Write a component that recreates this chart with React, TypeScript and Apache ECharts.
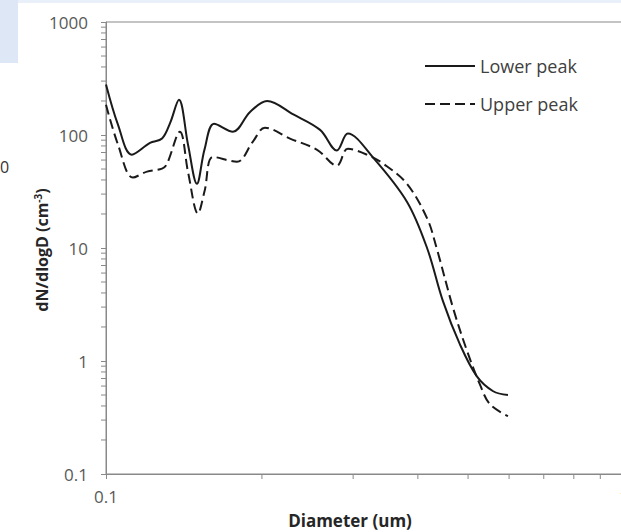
import React, { useEffect, useRef } from "react";
import * as echarts from "echarts";

// Lower peak (solid) : [diameter um, dN/dlogD]
const lowerPeak: [number, number][] = [
  [0.1, 280], [0.1055, 123], [0.1122, 67], [0.1216, 85], [0.1283, 93],
  [0.133, 128], [0.1383, 205], [0.144, 82], [0.1498, 37], [0.155, 75],
  [0.1617, 126], [0.1758, 107], [0.1897, 160], [0.2046, 200], [0.23, 152],
  [0.259, 111], [0.279, 73], [0.293, 103], [0.327, 64], [0.381, 25.7],
  [0.417, 9.9], [0.447, 3.4], [0.482, 1.41], [0.52, 0.73], [0.559, 0.54],
  [0.597, 0.5],
];

// Upper peak (dashed)
const upperPeak: [number, number][] = [
  [0.1, 185], [0.1055, 82], [0.1127, 42], [0.12, 47.4], [0.1283, 50.4],
  [0.131, 55], [0.1389, 107], [0.144, 47], [0.1505, 20.2], [0.155, 32],
  [0.161, 64], [0.179, 58], [0.192, 87], [0.2027, 116], [0.2266, 93],
  [0.2556, 74], [0.279, 53.5], [0.293, 75.6], [0.319, 67], [0.343, 55.7],
  [0.381, 37], [0.417, 18.2], [0.435, 9.9], [0.468, 2.92], [0.498, 1.22],
  [0.527, 0.62], [0.551, 0.415], [0.597, 0.325],
];

const seriesNames = ["Lower peak", "Upper peak"];
const xMinorTicks = [0.2, 0.3, 0.4, 0.5, 0.6, 0.7, 0.8, 0.9];
const yDecades = [0.1, 1, 10, 100];
const yMultipliers = [2, 3, 4, 5, 6, 7, 8, 9];

const AXIS = "#898989";
const INK = "#1a1a1a";

export default function App() {
  const ref = useRef<HTMLDivElement>(null);
  useEffect(() => {
    document.body.style.margin = "0";
    const chart = echarts.init(ref.current!, null, { renderer: "svg" });
    const yMinor: [number, number][] = [];
    yDecades.forEach((d) => yMultipliers.forEach((m) => yMinor.push([0.1, +(d * m).toPrecision(3)])));
    const xMinor: [number, number][] = xMinorTicks.map((v) => [v, 0.1]);

    const legendText = (y: number, text: string) => ({
      type: "text", x: 480, y,
      style: { text, fontFamily: "Open Sans", fontSize: 18, fill: "#404040", align: "left", verticalAlign: "middle" },
    });

    chart.setOption({
      animation: false,
      backgroundColor: "#fff",
      grid: {
        left: 106, top: 22, width: 518, height: 452,
        outerBoundsMode: "none", containLabel: false,
        show: true, borderColor: AXIS, borderWidth: 1,
      },
      xAxis: {
        type: "log", logBase: 10, min: 0.1, max: 1,
        axisLine: { show: true, lineStyle: { color: AXIS, width: 1 } },
        axisTick: { show: true, length: 5, lineStyle: { color: AXIS } },
        splitLine: { show: false },
        axisLabel: {
          margin: 14, fontFamily: "Open Sans", fontSize: 17, color: "#595959",
          showMinLabel: true, showMaxLabel: true, hideOverlap: false,
          formatter: (v: number) => String(Number(v.toPrecision(3))),
        },
      },
      yAxis: {
        type: "log", logBase: 10, min: 0.1, max: 1000,
        axisLine: { show: true, lineStyle: { color: AXIS, width: 1 } },
        axisTick: { show: true, length: 5, lineStyle: { color: AXIS } },
        splitLine: { show: false },
        axisLabel: {
          margin: 18, fontFamily: "Open Sans", fontSize: 17, color: "#595959",
          formatter: (v: number) => String(Number(v.toPrecision(3))),
        },
      },
      graphic: [
        { type: "rect", z: -10, shape: { x: 0, y: 0, width: 18, height: 63 }, style: { fill: "#dde7f6" } },
        { type: "rect", z: -10, shape: { x: 18, y: 0, width: 603, height: 3 }, style: { fill: "#e9f0fa" } },
        {
          type: "text", x: 0, y: 167,
          style: { text: "0", fontFamily: "Open Sans", fontSize: 16, fill: "#333", align: "left", verticalAlign: "middle" },
        },
        {
          type: "text", x: 350, y: 520,
          style: {
            text: "Diameter (um)", fontFamily: "Open Sans", fontWeight: "bold", fontSize: 17,
            fill: "#262626", align: "center", verticalAlign: "middle",
          },
        },
        {
          type: "text", x: 42, y: 250, rotation: Math.PI / 2,
          style: {
            text: "{a|dN/dlogD (cm}{b|-3}{a|)}",
            align: "center", verticalAlign: "middle",
            rich: {
              a: { fontFamily: "Open Sans", fontWeight: "bold", fontSize: 16, fill: "#262626" },
              b: { fontFamily: "Open Sans", fontWeight: "bold", fontSize: 10, fill: "#262626", padding: [0, 0, 9, 0] },
            },
          },
        },
        // legend
        { type: "line", shape: { x1: 425, y1: 66, x2: 475, y2: 66 }, style: { stroke: INK, lineWidth: 2 } },
        legendText(66, seriesNames[0]),
        { type: "line", shape: { x1: 425, y1: 104, x2: 475, y2: 104 }, style: { stroke: INK, lineWidth: 2, lineDash: [10, 5] } },
        legendText(104, seriesNames[1]),
      ],
      series: [
        {
          name: seriesNames[0], type: "line", data: lowerPeak, smooth: 0.35,
          showSymbol: false, symbol: "none",
          lineStyle: { color: INK, width: 2, type: "solid" },
        },
        {
          name: seriesNames[1], type: "line", data: upperPeak, smooth: 0.35,
          showSymbol: false, symbol: "none",
          lineStyle: { color: INK, width: 2, type: [10, 5] },
        },
        {
          type: "custom", silent: true, clip: false, data: xMinor,
          encode: { x: 0, y: 1 },
          renderItem: (_p: any, api: any) => {
            const pt = api.coord([api.value(0), api.value(1)]);
            return { type: "line", shape: { x1: pt[0], y1: pt[1], x2: pt[0], y2: pt[1] + 5 }, style: { stroke: AXIS, lineWidth: 1 } };
          },
        },
        {
          type: "custom", silent: true, clip: false, data: yMinor,
          encode: { x: 0, y: 1 },
          renderItem: (_p: any, api: any) => {
            const pt = api.coord([api.value(0), api.value(1)]);
            return { type: "line", shape: { x1: pt[0], y1: pt[1], x2: pt[0] - 5, y2: pt[1] }, style: { stroke: AXIS, lineWidth: 1 } };
          },
        },
      ],
    });
    return () => chart.dispose();
  }, []);
  return <div ref={ref} style={{ width: 621, height: 532 }} />;
}
